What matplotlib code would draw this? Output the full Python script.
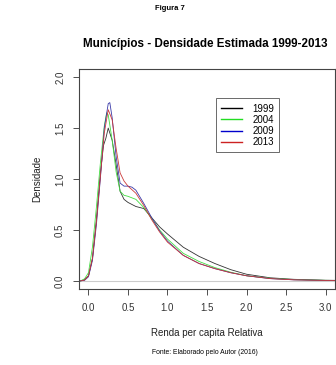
import matplotlib
matplotlib.use("Agg")
import matplotlib.pyplot as plt

plt.rcParams['font.family'] = ['Liberation Sans', 'DejaVu Sans']

years = ["1999", "2004", "2009", "2013"]

x_1999 = [-0.1, -0.05, 0.0, 0.05, 0.1, 0.15, 0.19, 0.22, 0.25, 0.3, 0.35, 0.4, 0.45, 0.5, 0.6, 0.7, 0.8, 0.9, 1.0, 1.2, 1.4, 1.6, 1.8, 2.0, 2.3, 2.6, 3.0, 3.12]
d_1999 = [0.0, 0.01, 0.05, 0.22, 0.6, 1.05, 1.33, 1.40, 1.50, 1.38, 1.14, 0.88, 0.80, 0.77, 0.73, 0.71, 0.62, 0.53, 0.46, 0.33, 0.24, 0.17, 0.11, 0.065, 0.03, 0.015, 0.006, 0.005]

x_2004 = [-0.1, -0.05, 0.0, 0.05, 0.1, 0.15, 0.2, 0.23, 0.25, 0.3, 0.35, 0.4, 0.45, 0.5, 0.6, 0.7, 0.8, 0.9, 1.0, 1.2, 1.4, 1.6, 1.8, 2.0, 2.3, 2.6, 3.0, 3.12]
d_2004 = [0.0, 0.02, 0.08, 0.33, 0.72, 1.15, 1.52, 1.65, 1.63, 1.38, 1.07, 0.88, 0.84, 0.83, 0.80, 0.72, 0.61, 0.50, 0.41, 0.27, 0.19, 0.13, 0.085, 0.05, 0.025, 0.012, 0.005, 0.004]

x_2009 = [-0.1, -0.05, 0.0, 0.05, 0.1, 0.15, 0.2, 0.25, 0.27, 0.3, 0.35, 0.4, 0.45, 0.5, 0.55, 0.6, 0.7, 0.8, 0.9, 1.0, 1.2, 1.4, 1.6, 1.8, 2.0, 2.3, 2.6, 3.0, 3.12]
d_2009 = [0.0, 0.005, 0.04, 0.2, 0.55, 1.0, 1.50, 1.74, 1.75, 1.6, 1.22, 0.96, 0.93, 0.93, 0.92, 0.89, 0.76, 0.62, 0.49, 0.39, 0.25, 0.17, 0.12, 0.08, 0.05, 0.022, 0.01, 0.004, 0.003]

x_2013 = [-0.1, -0.05, 0.0, 0.05, 0.1, 0.15, 0.2, 0.25, 0.3, 0.35, 0.4, 0.45, 0.5, 0.6, 0.7, 0.8, 0.9, 1.0, 1.2, 1.4, 1.6, 1.8, 2.0, 2.3, 2.6, 3.0, 3.12]
d_2013 = [0.0, 0.008, 0.05, 0.22, 0.58, 1.02, 1.45, 1.68, 1.58, 1.30, 1.06, 0.98, 0.93, 0.86, 0.74, 0.60, 0.48, 0.38, 0.25, 0.17, 0.12, 0.08, 0.05, 0.022, 0.01, 0.004, 0.003]

xs = [x_1999, x_2004, x_2009, x_2013]
ds = [d_1999, d_2004, d_2009, d_2013]
colors = ['#333333', '#44dd44', '#3a3aa8', '#cc3a3a']
legend_colors = ['#000000', '#22dd22', '#0000cc', '#cc2222']

xticks = [0.0, 0.5, 1.0, 1.5, 2.0, 2.5, 3.0]
yticks = [0.0, 0.5, 1.0, 1.5, 2.0]

fig = plt.figure(figsize=(3.36, 3.65), dpi=100)
ax = fig.add_axes([79/336, 1 - 289/365, 256/336, 220/365])

ax.axhline(0, color='#cccccc', lw=0.8, zorder=1)
for x, d, c in zip(xs, ds, colors):
    ax.plot(x, d, color=c, lw=0.6, zorder=2)

ax.set_xlim(-0.12, 3.12)
ax.set_ylim(-0.08, 2.08)
ax.set_xticks(xticks)
ax.set_xticklabels([f"{t:.1f}" for t in xticks])
ax.set_yticks(yticks)
ax.set_yticklabels([f"{t:.1f}" for t in yticks], rotation=90, va='center')
ax.tick_params(axis='both', labelsize=7, colors='#333333', length=4, width=0.6, pad=6)
for s in ax.spines.values():
    s.set_color('#444444')
    s.set_linewidth(0.8)

ax.set_xlabel("Renda per capita Relativa", fontsize=7, color='#222222', labelpad=11)
ax.set_ylabel("Densidade", fontsize=7, color='#222222', labelpad=9)

handles = [plt.Line2D([], [], color=c, lw=1.0) for c in legend_colors]
leg = ax.legend(handles, years, loc='upper left', bbox_to_anchor=((215.7-79)/256, (289-98.3)/220),
                fontsize=7, frameon=True, fancybox=False, handlelength=2.2,
                handletextpad=1.0, labelspacing=0.12, borderpad=0.55, borderaxespad=0)
leg.get_frame().set_edgecolor('#444444')
leg.get_frame().set_linewidth(0.7)

fig.text(170/336, 1 - 9/365, "Figura 7", ha='center', va='center', fontsize=5.5, fontweight='bold')
fig.text(205/336, 1 - 44/365, "Municípios - Densidade Estimada 1999-2013", ha='center', va='center',
         fontsize=8.4, fontweight='bold')
fig.text(205/336, 1 - 352/365, "Fonte: Elaborado pelo Autor (2016)", ha='center', va='center', fontsize=4.9)

fig.savefig("out.png", dpi=100)
